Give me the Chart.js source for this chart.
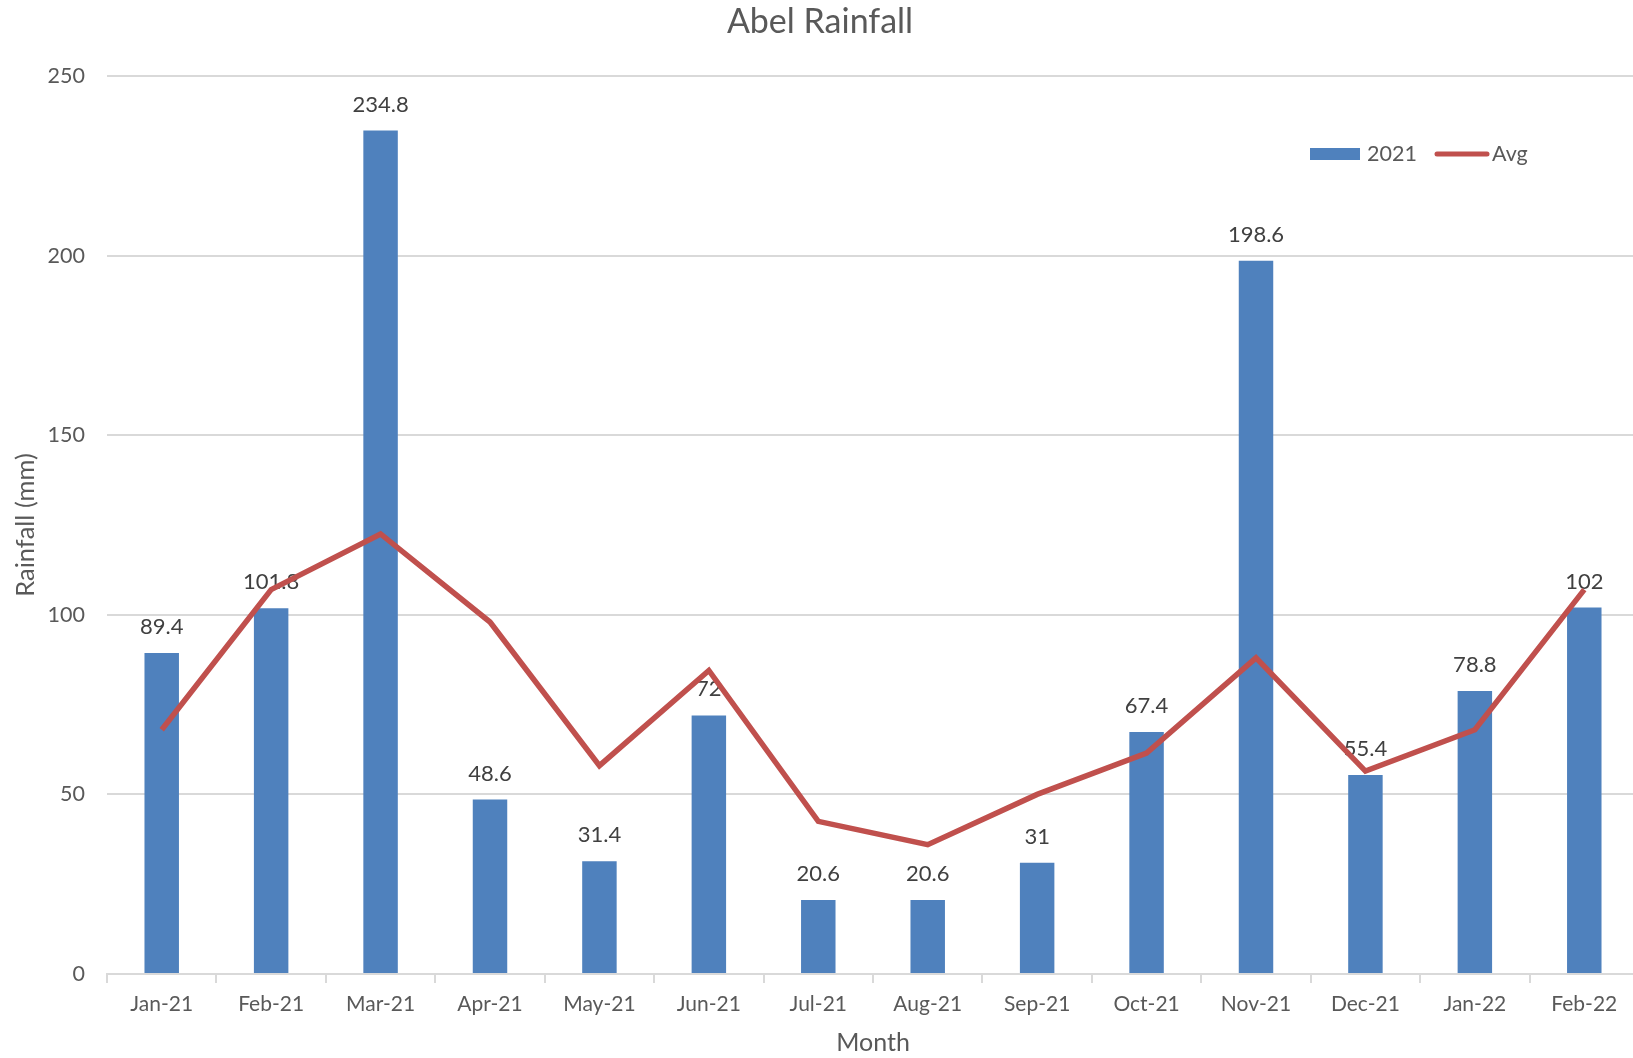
<!DOCTYPE html>
<html>
<head>
<meta charset="utf-8">
<script src="https://cdn.jsdelivr.net/npm/chart.js@4.4.0/dist/chart.umd.min.js"></script>
<style>
html,body{margin:0;padding:0;background:#fff;overflow:hidden;}
#wrap{width:1633px;height:1058px;overflow:hidden;}
</style>
</head>
<body>
<div id="wrap"><canvas id="c" width="1639" height="1058"></canvas></div>
<script>
const chartTitle = "Abel Rainfall";
const months = ["Jan-21","Feb-21","Mar-21","Apr-21","May-21","Jun-21","Jul-21","Aug-21","Sep-21","Oct-21","Nov-21","Dec-21","Jan-22","Feb-22"];
const rain2021 = [89.4,101.8,234.8,48.6,31.4,72,20.6,20.6,31,67.4,198.6,55.4,78.8,102];
const avgRain = [68,107,122.5,98,58,84.5,42.5,36,50,61.5,88,56.5,68,107];
const yTicks = [0,50,100,150,200,250];

const FONT = "Lato, 'Open Sans', sans-serif";
const TXT = "#595959";
const GRID = "#d9d9d9";

const labelPlugin = {
  id: 'labels',
  afterDatasetDraw(chart, args) {
    if (args.index !== 0) return;
    const ctx = chart.ctx;
    const meta = chart.getDatasetMeta(0);
    ctx.save();
    ctx.font = "22px " + FONT;
    ctx.fillStyle = "#404040";
    ctx.textAlign = "center";
    ctx.textBaseline = "middle";
    meta.data.forEach((el, i) => {
      ctx.fillText(String(rain2021[i]), el.x, el.y - 26);
    });
    ctx.restore();
  },
  afterDraw(chart) {
    const ctx = chart.ctx;
    ctx.save();
    ctx.font = "34px " + FONT;
    ctx.fillStyle = TXT;
    ctx.textAlign = "center";
    ctx.textBaseline = "middle";
    ctx.fillText(chartTitle, 820, 22);
    const ds = chart.data.datasets;
    ctx.font = "21.5px " + FONT;
    ctx.textAlign = "left";
    const cy = 154;
    ctx.fillStyle = ds[0].backgroundColor;
    ctx.fillRect(1310, cy - 6, 50, 12);
    ctx.fillStyle = TXT;
    ctx.fillText(ds[0].label, 1367, cy);
    ctx.strokeStyle = ds[1].borderColor;
    ctx.lineWidth = 5;
    ctx.lineCap = "round";
    ctx.beginPath();
    ctx.moveTo(1437, cy);
    ctx.lineTo(1487, cy);
    ctx.stroke();
    ctx.fillStyle = TXT;
    ctx.fillText(ds[1].label, 1492, cy);
    ctx.restore();
  }
};

new Chart(document.getElementById('c'), {
  type: 'bar',
  data: {
    labels: months,
    datasets: [
      {
        type: 'bar',
        label: '2021',
        data: rain2021,
        backgroundColor: '#4F81BD',
        barPercentage: 0.315,
        categoryPercentage: 1.0,
        order: 1
      },
      {
        type: 'line',
        label: 'Avg',
        data: avgRain,
        borderColor: '#C0504D',
        backgroundColor: '#C0504D',
        borderWidth: 5.5,
        pointRadius: 0,
        tension: 0,
        fill: false,
        order: 0
      }
    ]
  },
  options: {
    responsive: false,
    animation: false,
    layout: { padding: { top: 76, right: 0, bottom: 0, left: 0 } },
    plugins: {
      legend: { display: false },
      title: { display: false },
      tooltip: { enabled: false }
    },
    scales: {
      x: {
        offset: true,
        grid: { display: true, offset: true, drawOnChartArea: false, drawTicks: true, tickLength: 9, color: GRID, tickColor: GRID, lineWidth: 2 },
        border: { display: true, color: GRID, width: 2 },
        ticks: { color: TXT, font: { family: FONT, size: 21 }, padding: 9, maxRotation: 0, autoSkip: false },
        title: { display: true, text: 'Month', color: TXT, font: { family: FONT, size: 25 }, padding: { top: 0, bottom: 0 } },
        afterFit(s) { s.height = 84; }
      },
      y: {
        min: 0, max: 250,
        afterBuildTicks(s) { s.ticks = yTicks.map(v => ({ value: v })); },
        grid: { color: GRID, lineWidth: 2, drawTicks: false },
        border: { display: false },
        ticks: { color: TXT, font: { family: FONT, size: 21.5 }, padding: 22 },
        title: { display: true, text: 'Rainfall (mm)', color: TXT, font: { family: FONT, size: 25.5 }, padding: { top: 10, bottom: 0 } },
        afterFit(s) { s.width = 107; }
      }
    }
  },
  plugins: [labelPlugin]
});
</script>
</body>
</html>
